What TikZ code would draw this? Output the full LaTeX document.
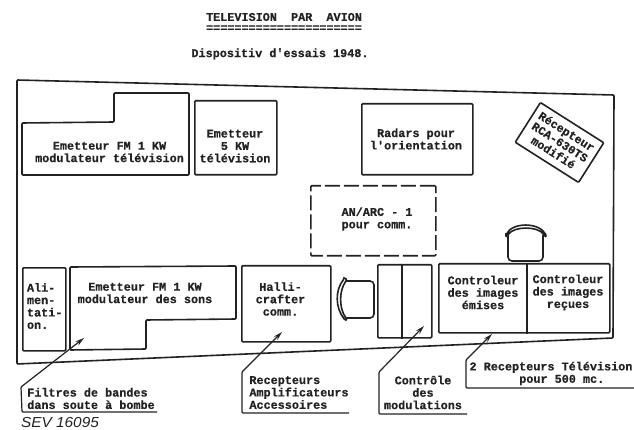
\documentclass[tikz,border=0pt]{standalone}
\usepackage{fontspec}
\setmonofont{Liberation Mono}[BoldFeatures={FakeBold=0.5}]
\newfontfamily\sevfont{Liberation Sans}
\usetikzlibrary{arrows.meta}
\definecolor{ink}{HTML}{222222}
\tikzset{
  x=1pt,y=-1pt,
  txt/.style={text=ink,font=\fontsize{11.8}{12.4}\selectfont\ttfamily\bfseries,align=center,inner sep=0pt},
  txtl/.style={txt,align=left},
  box/.style={draw=ink,line width=1.6pt,rounded corners=1pt,inner sep=0pt,anchor=north west},
  shape line/.style={draw=ink,line width=1.6pt,rounded corners=1pt},
  link/.style={draw=ink,line width=1.2pt,rounded corners=1pt,-{Stealth[length=9pt,width=5pt]}},
}
\begin{document}
\begin{tikzpicture}
\useasboundingbox[fill=white] (0,0) rectangle (634,430);
% titles
\node[txt] (title) at (284,17) {TELEVISION\ \ PAR\ \ AVION};
\node[txt] (titlerule) at (284,28.5) {======================};
\node[txt] (subtitle) at (280,54) {Dispositiv d'essais 1948.};
% fuselage
\draw[shape line] (17,80) -- (614,95) -- (613,338) -- (17,364) -- cycle;
% transmitter 1 kW TV
\draw[shape line] (22,123) -- (114,122) -- (114,93) -- (189,93) -- (189,175) -- (22,175) -- cycle;
\node[txt] (em1) at (109.5,152) {Emetteur FM 1 KW\\modulateur télévision};
% transmitter 5 kW
\node[box,minimum width=82pt,minimum height=74pt] (em5) at (194,100) {};
\node[txt] (em5t) at (235,146) {Emetteur\\5 KW\\télévision};
% radars
\node[box,minimum width=111pt,minimum height=71pt] (radar) at (361,103) {};
\node[txt] (radart) at (416,139) {Radars pour\\l'orientation};
% rotated receiver
\node[draw=ink,line width=1.6pt,rounded corners=1pt,minimum width=75pt,minimum height=47pt,rotate=-32.4,inner sep=0pt] (rca) at (559.5,142.5) {};
\node[txt,rotate=-32.4] (rcat) at (560,142) {Récepteur\\RCA-630TS\\modifié};
% AN/ARC
\node[box,dash pattern=on 15pt off 4pt,minimum width=125pt,minimum height=70pt] (arc) at (310,185) {};
\node[txt] (arct) at (377,219) {AN/ARC - 1\\pour comm.};
% alim
\node[box,minimum width=43pt,minimum height=83pt] (alim) at (22,267) {};
\node[txtl] (alimt) at (44.7,306) {Ali-\\men-\\tati-\\on.};
% sons
\draw[shape line] (70,267) -- (236,266) -- (236,319) -- (146,320) -- (146,349) -- (70,350) -- cycle;
\node[txt] (sons) at (145,293) {Emetteur FM 1 KW\\modulateur des sons};
% hallicrafter
\node[box,minimum width=89pt,minimum height=76pt] (halli) at (241,265) {};
\node[txt] (hallit) at (280.5,299) {Halli-\\crafter\\comm.};
% left chair
\draw[shape line,rounded corners=4pt] (346,281) -- (374,281) -- (374,318) -- (346,318);
\draw[shape line,fill=white] (344,279) .. controls (335,290) and (335,308) .. (345,320) .. controls (347,320) and (347,319) .. (346,318) .. controls (339,308) and (339,291) .. (346,281) .. controls (347,279) and (345,278) .. (344,279) -- cycle;
% modulation rack
\node[box,minimum width=54pt,minimum height=73pt] (mod) at (377,264) {};
\draw[shape line] (mod.north west -| 402,0) -- (mod.south west -| 402,0);
% right chair
\draw[shape line,rounded corners=4pt] (508,235) -- (508,261) -- (543,261) -- (543,235);
\draw[shape line,fill=white] (506,235) .. controls (512,222) and (539,222) .. (546,235) .. controls (546,237) and (545,236) .. (544,235) .. controls (538,226) and (514,226) .. (508,235) .. controls (507,237) and (506,236) .. (506,235) -- cycle;
% image controllers
\node[box,minimum width=171pt,minimum height=69pt] (ctrl) at (438,263) {};
\draw[shape line] (ctrl.north west -| 527,0) -- (ctrl.south west -| 527,0);
\node[txt] (ctrla) at (483,292.5) {Controleur\\des images\\émises};
\node[txt] (ctrlb) at (568,292.5) {Controleur\\des images\\reçues};
% labels
\node[txtl] (filt) at (91,398.5) {Filtres de bandes\\dans soute à bombe};
\node[txtl] (recep) at (299,392.5) {Recepteurs\\Amplificateurs\\Accessoires};
\node[txt] (ctl) at (423,392.5) {Contrôle\\des\\modulations};
\node[txtl] (tv) at (551,373.5) {2 Recepteurs Télévision\\\hspace*{49.7pt}pour 500 mc.};
\node[text=ink,font=\fontsize{14.5}{15}\selectfont\sevfont\itshape,inner sep=0pt,xscale=1.06] (sev) at (60,423) {SEV 16095};
% connector points
\coordinate (fa) at (157,412); \coordinate (fb) at (22,412); \coordinate (fc) at (21,387); \coordinate (ft) at (84,338);
\coordinate (ha) at (349,413); \coordinate (hb) at (242,413); \coordinate (hc) at (242,372); \coordinate (ht) at (282,332);
\coordinate (ma) at (467,414); \coordinate (mb) at (379,414); \coordinate (mc) at (379,372); \coordinate (mt) at (424,326);
\coordinate (ca) at (634,388); \coordinate (cb) at (466,388); \coordinate (cc) at (466,360); \coordinate (ct) at (492,334);
\draw[link] (fa) -- (fb) -- (fc) -- (ft);
\draw[link] (ha) -- (hb) -- (hc) -- (ht);
\draw[link] (ma) -- (mb) -- (mc) -- (mt);
\draw[link] (ca) -- (cb) -- (cc) -- (ct);
\end{tikzpicture}
\end{document}
